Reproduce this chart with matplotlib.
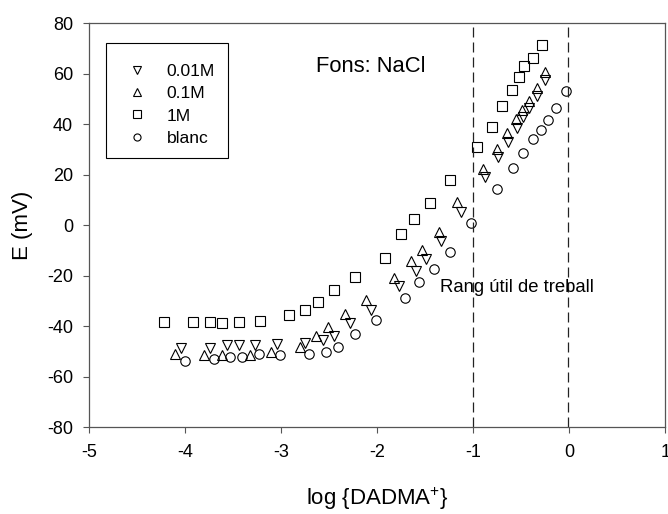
import matplotlib
matplotlib.use('Agg')
import matplotlib.pyplot as plt
from matplotlib.patches import Rectangle

plt.rcParams['font.family'] = ['Liberation Sans', 'DejaVu Sans']
plt.rcParams['mathtext.fontset'] = 'custom'
plt.rcParams['mathtext.rm'] = 'Liberation Sans'
plt.rcParams['mathtext.it'] = 'Liberation Sans'
plt.rcParams['axes.unicode_minus'] = False

# 0.01M (triangle down)
x001 = [-4.04, -3.74, -3.57, -3.44, -3.27, -3.04, -2.75, -2.57, -2.45, -2.28, -2.07, -1.77,
        -1.60, -1.49, -1.34, -1.13, -0.88, -0.74, -0.64, -0.55, -0.48, -0.42, -0.34, -0.25]
y001 = [-48.6, -48.7, -47.6, -47.6, -47.6, -47.2, -46.7, -45.6, -44.0, -38.8, -33.4, -24.0,
        -18.0, -13.2, -6.1, 5.4, 19.0, 27.0, 32.9, 38.7, 42.9, 46.6, 51.1, 57.5]

# 0.1M (triangle up)
x01 = [-4.11, -3.81, -3.62, -3.33, -3.11, -2.81, -2.64, -2.51, -2.34, -2.12, -1.83, -1.65,
       -1.53, -1.36, -1.17, -0.90, -0.75, -0.65, -0.56, -0.49, -0.42, -0.34, -0.25]
y01 = [-50.9, -51.2, -51.3, -51.3, -50.2, -48.4, -43.9, -40.3, -35.3, -29.7, -20.7, -14.1,
       -9.6, -2.6, 9.1, 22.2, 30.3, 36.5, 42.0, 45.8, 49.4, 54.4, 60.6]

# 1M (square)
x1 = [-4.22, -3.92, -3.74, -3.62, -3.44, -3.22, -2.92, -2.75, -2.62, -2.45, -2.23, -1.92,
      -1.75, -1.62, -1.45, -1.24, -0.965, -0.81, -0.70, -0.60, -0.52, -0.47, -0.38, -0.28]
y1 = [-38.3, -38.3, -38.3, -38.7, -38.3, -37.8, -35.7, -33.4, -30.3, -25.6, -20.3, -12.9,
      -3.6, 2.3, 8.9, 18.0, 31.1, 39.1, 47.1, 53.4, 58.7, 62.9, 66.2, 71.3]

# blanc (circle)
xb = [-4.00, -3.70, -3.53, -3.41, -3.23, -3.01, -2.71, -2.53, -2.41, -2.23, -2.01, -1.71,
      -1.57, -1.41, -1.24, -1.02, -0.75, -0.59, -0.48, -0.38, -0.29, -0.22, -0.14, -0.03]
yb = [-53.9, -52.9, -52.1, -52.0, -50.9, -51.4, -51.0, -50.1, -48.4, -43.2, -37.6, -28.7,
      -22.3, -17.4, -10.6, 1.1, 14.3, 22.6, 28.6, 34.3, 37.9, 41.6, 46.3, 53.2]

rang_lines = [-1.0, -0.01]

fig = plt.figure(figsize=(6.68, 5.14), dpi=100)
ax = fig.add_axes([0.1337, 0.1687, 0.996 - 0.1337, 0.9547 - 0.1687])

ms = 6.8
mew = 0.8
ax.plot(x001, y001, linestyle='none', marker='v', ms=ms, mfc='none', mec='black', mew=mew, label='0.01M')
ax.plot(x01, y01, linestyle='none', marker='^', ms=ms, mfc='none', mec='black', mew=mew, label='0.1M')
ax.plot(x1, y1, linestyle='none', marker='s', ms=ms, mfc='none', mec='black', mew=mew, label='1M')
ax.plot(xb, yb, linestyle='none', marker='o', ms=ms, mfc='none', mec='black', mew=mew, label='blanc')

for xv in rang_lines:
    ax.axvline(xv, color='#222222', lw=0.9, linestyle=(0, (8, 4)))

ax.text(-2.64, 62.7, 'Fons: NaCl', fontsize=15.8, va='center', ha='left')
ax.text(-1.35, -24.8, 'Rang útil de treball', fontsize=13.3, va='center', ha='left')

ax.set_xlim(-5, 1)
ax.set_ylim(-80, 80)
ax.set_xticks([-5, -4, -3, -2, -1, 0, 1])
ax.set_yticks([-80, -60, -40, -20, 0, 20, 40, 60, 80])

for s in ax.spines.values():
    s.set_color('#555555')
    s.set_linewidth(0.9)
ax.tick_params(direction='out', length=4.3, width=0.8, color='#555555', labelsize=13)
ax.tick_params(axis='x', pad=8)
ax.tick_params(axis='y', pad=7.5)

ax.set_xlabel('log {DADMA$^{+}$}', fontsize=16)
ax.set_ylabel('E (mV)', fontsize=16)
ax.xaxis.set_label_coords(0.5, -0.145)
ax.yaxis.set_label_coords(-0.097, 0.5)

# legend entries without frame, box drawn separately to match the original
leg = ax.legend(loc='upper left', bbox_to_anchor=(0.0245, 0.944), fontsize=12.6, markerscale=0.75,
                frameon=False, handlelength=1.8, handletextpad=0.8,
                labelspacing=0.41, borderpad=1.0, borderaxespad=0)
ax.add_patch(Rectangle((0.0285, 0.6666), 0.2123, 0.2839, transform=ax.transAxes,
                       fill=False, edgecolor='black', lw=0.8, zorder=5))

fig.savefig('out.png', dpi=100)
